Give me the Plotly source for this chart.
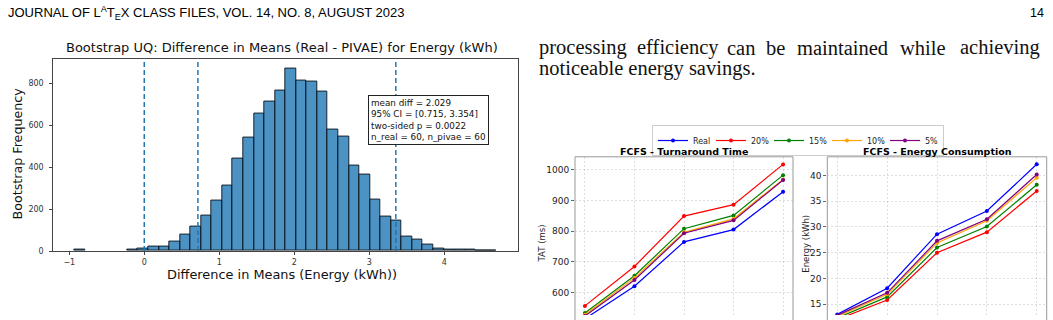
import plotly.graph_objects as go

W, H = 1053, 320


def fx(px):
    return px / W


def fy(py):
    return 1 - py / H


# ---------------- Histogram data (bootstrap difference in means) ----------------
hist_start = -0.932
hist_width = 0.14075
hist_counts = [5, 0, 0, 0, 0, 8, 12, 20, 20, 44,
               78, 117, 168, 243, 313, 443, 543, 654, 711, 766,
               870, 811, 808, 760, 579, 545, 406, 367, 245, 164,
               145, 70, 55, 31, 14, 9, 9, 5, 1, 4]
ref_lines = [0.0, 0.715, 3.354]
hist_xticks = [-1, 0, 1, 2, 3, 4]
hist_yticks = [0, 200, 400, 600, 800]
stats_lines = ["mean diff = 2.029", "95% CI = [0.715, 3.354]",
               "two-sided p = 0.0022", "n_real = 60, n_pivae = 60"]

# ---------------- Line chart data ----------------
x_points = [1, 2, 3, 4, 5]
series_names = ["Real", "20%", "15%", "10%", "5%"]
series_colors = ["blue", "red", "green", "orange", "purple"]
tat_real = [515, 621, 765, 805, 928]
tat_20 = [557, 685, 849, 886, 1017]
tat_15 = [534, 655, 808, 851, 982]
tat_10 = [528, 648, 796, 840, 968]
tat_5 = [524, 641, 793, 835, 966]
en_real = [13.0, 18.1, 28.6, 33.1, 42.2]
en_20 = [12.0, 15.8, 25.0, 29.0, 37.0]
en_15 = [12.3, 16.4, 26.0, 30.1, 38.2]
en_10 = [12.6, 16.9, 26.9, 31.2, 39.6]
en_5 = [12.8, 17.2, 27.3, 31.5, 40.2]
tat_series = [tat_real, tat_20, tat_15, tat_10, tat_5]
en_series = [en_real, en_20, en_15, en_10, en_5]
tat_ticks = [600, 700, 800, 900, 1000]
en_ticks = [15, 20, 25, 30, 35, 40]

SANS = "DejaVu Sans"

fig = go.Figure()

centers = [hist_start + (i + 0.5) * hist_width for i in range(len(hist_counts))]
bar_heights = [c if c > 0 else None for c in hist_counts]
fig.add_trace(go.Bar(
    x=centers, y=bar_heights, width=hist_width,
    marker=dict(color="rgba(31,119,180,0.8)",
                line=dict(color="rgba(10,20,30,0.9)", width=1)),
    xaxis="x", yaxis="y", showlegend=False,
))

for name, col, tat, en in zip(series_names, series_colors, tat_series, en_series):
    fig.add_trace(go.Scatter(
        x=x_points, y=tat, mode="lines+markers", name=name,
        line=dict(color=col, width=1.2), marker=dict(color=col, size=4),
        xaxis="x2", yaxis="y2", showlegend=True, cliponaxis=True,
    ))
    fig.add_trace(go.Scatter(
        x=x_points, y=en, mode="lines+markers", name=name,
        line=dict(color=col, width=1.2), marker=dict(color=col, size=4),
        xaxis="x3", yaxis="y3", showlegend=False, cliponaxis=True,
    ))

shapes = []
for v in ref_lines:
    shapes.append(dict(type="line", xref="x", yref="y domain", x0=v, x1=v, y0=0, y1=1,
                       line=dict(color="#1f77b4", width=1.5, dash="5px,3px")))
for l, r in [(575, 793), (827.3, 1046.7)]:
    shapes.append(dict(type="rect", xref="paper", yref="paper",
                       x0=fx(l), x1=fx(r), y0=-0.3, y1=fy(159.3),
                       line=dict(color="#999999", width=1), fillcolor="rgba(0,0,0,0)"))

annotations = []
# Page header
annotations.append(dict(text="JOURNAL OF L<sup>A</sup>T<sub>E</sub>X CLASS FILES, VOL. 14, NO. 8, AUGUST 2023",
                        x=fx(6), y=fy(13), xref="paper", yref="paper", xanchor="left", yanchor="middle",
                        showarrow=False, font=dict(family="Liberation Sans", size=13, color="black")))
annotations.append(dict(text="14", x=fx(1046), y=fy(13), xref="paper", yref="paper",
                        xanchor="right", yanchor="middle", showarrow=False,
                        font=dict(family="Liberation Sans", size=12.5, color="black")))
# Paragraph text (justified first line)
line1_words = ["processing", "efficiency", "can", "be", "maintained", "while", "achieving"]
line1_pos = [536.7, 635, 725, 764, 795, 898, 958]
for w, p in zip(line1_words, line1_pos):
    annotations.append(dict(text=w, x=fx(p), y=fy(48.5), xref="paper", yref="paper",
                            xanchor="left", yanchor="middle", showarrow=False,
                            font=dict(family="Liberation Serif", size=20.5, color="#111")))
annotations.append(dict(text="noticeable energy savings.", x=fx(536.7), y=fy(70), xref="paper", yref="paper",
                        xanchor="left", yanchor="middle", showarrow=False,
                        font=dict(family="Liberation Serif", size=20.5, color="#111")))
# Histogram labels
annotations.append(dict(text="Bootstrap UQ: Difference in Means (Real - PIVAE) for Energy (kWh)",
                        x=fx(282), y=fy(48.5), xref="paper", yref="paper", xanchor="center", yanchor="middle",
                        showarrow=False, font=dict(family=SANS, size=13, color="#111")))
annotations.append(dict(text="Difference in Means (Energy (kWh))",
                        x=fx(282), y=fy(279), xref="paper", yref="paper", xanchor="center", yanchor="middle",
                        showarrow=False, font=dict(family=SANS, size=12.9, color="#111")))
annotations.append(dict(text="Bootstrap Frequency", textangle=-90,
                        x=fx(18), y=fy(156), xref="paper", yref="paper", xanchor="center", yanchor="middle",
                        showarrow=False, font=dict(family=SANS, size=12.7, color="#111")))
annotations.append(dict(text="<br>".join(stats_lines), align="left",
                        x=fx(368), y=fy(97), xref="paper", yref="paper", xanchor="left", yanchor="top",
                        showarrow=False, bgcolor="white", bordercolor="#222", borderwidth=1, borderpad=2,
                        font=dict(family=SANS, size=8.8, color="#111")))
# Line chart labels
annotations.append(dict(text="<b>FCFS - Turnaround Time</b>", x=fx(684), y=fy(153.5), xref="paper", yref="paper",
                        xanchor="center", yanchor="middle", showarrow=False,
                        font=dict(family=SANS, size=9.5, color="black")))
annotations.append(dict(text="<b>FCFS - Energy Consumption</b>", x=fx(937), y=fy(153.5), xref="paper", yref="paper",
                        xanchor="center", yanchor="middle", showarrow=False,
                        font=dict(family=SANS, size=9.5, color="black")))
annotations.append(dict(text="TAT (ms)", textangle=-90, x=fx(542.3), y=fy(247), xref="paper", yref="paper",
                        xanchor="center", yanchor="middle", showarrow=False,
                        font=dict(family=SANS, size=8.5, color="#222")))
annotations.append(dict(text="Energy (kWh)", textangle=-90, x=fx(806), y=fy(247.5), xref="paper", yref="paper",
                        xanchor="center", yanchor="middle", showarrow=False,
                        font=dict(family=SANS, size=8.5, color="#222")))

grid_style = dict(showgrid=True, gridcolor="rgba(0,0,0,0.13)", griddash="2px,2px", gridwidth=1, zeroline=False)

fig.update_layout(
    width=W, height=H, margin=dict(l=0, r=0, t=0, b=0),
    paper_bgcolor="white", plot_bgcolor="white",
    font=dict(family=SANS, color="#222"),
    bargap=0,
    xaxis=dict(domain=[fx(53.3), fx(517.7)], range=[-1.213, 4.979], anchor="y",
               showline=True, mirror=True, linecolor="#444", linewidth=1,
               ticks="outside", ticklen=3, tickcolor="#444", tickvals=hist_xticks,
               tickfont=dict(size=8, color="#333"), showgrid=False, zeroline=False),
    yaxis=dict(domain=[fy(255), fy(59.5)], range=[0, 918], anchor="x",
               showline=True, mirror=True, linecolor="#444", linewidth=1,
               ticks="outside", ticklen=3, tickcolor="#444", tickvals=hist_yticks,
               tickfont=dict(size=8, color="#333"), showgrid=False, zeroline=False,
               ticklabelstandoff=4),
    xaxis2=dict(domain=[fx(575), fx(793)], range=[0.8, 5.2], anchor="y2",
                showticklabels=False, ticks="", showline=False, tickvals=x_points, **grid_style),
    yaxis2=dict(domain=[0, fy(159.3)], range=[527.4, 1041.6], anchor="x2",
                ticks="outside", ticklen=3, tickcolor="#666", tickvals=tat_ticks,
                tickfont=dict(size=9, color="#222"), showline=False, **grid_style),
    xaxis3=dict(domain=[fx(827.3), fx(1046.7)], range=[0.8, 5.2], anchor="y3",
                showticklabels=False, ticks="", showline=False, tickvals=x_points, **grid_style),
    yaxis3=dict(domain=[0, fy(159.3)], range=[12.88, 43.65], anchor="x3",
                ticks="outside", ticklen=3, tickcolor="#666", tickvals=en_ticks,
                tickfont=dict(size=9, color="#222"), showline=False, **grid_style),
    legend=dict(orientation="h", x=fx(798), y=fy(127), xanchor="center", yanchor="top",
                bordercolor="#cccccc", borderwidth=1, bgcolor="rgba(255,255,255,0.9)",
                font=dict(family=SANS, size=8, color="#222"), itemwidth=30, tracegroupgap=0,
                entrywidth=13, entrywidthmode="pixels"),
    shapes=shapes, annotations=annotations,
)

fig.write_html("out.html")
